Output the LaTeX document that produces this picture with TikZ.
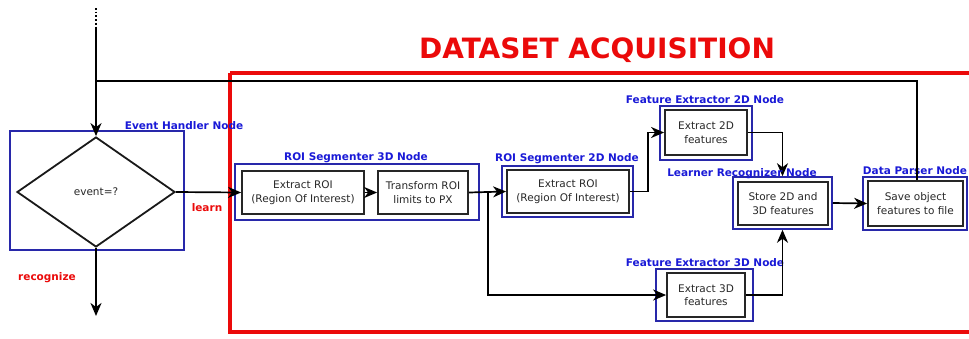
\documentclass[tikz,border=0pt]{standalone}
\usepackage{fontspec}
\setmainfont{DejaVu Sans}
\usetikzlibrary{shapes.geometric,arrows.meta,calc}
\definecolor{lblblue}{RGB}{25,25,215}
\definecolor{boxblue}{RGB}{40,40,170}
\definecolor{bigred}{RGB}{235,10,10}
\definecolor{txt}{RGB}{40,40,40}
\tikzset{
  inbox/.style={draw=black!85, line width=1.8pt, fill=white, inner sep=0pt, align=center,
    font=\fontsize{10.5}{13.5}\selectfont, text=txt},
  outbox/.style={draw=boxblue, line width=1.5pt, inner sep=0pt},
  nlabel/.style={font=\fontsize{10.5}{11}\selectfont\bfseries, text=lblblue, inner sep=0pt},
  conn/.style={line width=1.7pt, black},
  arr/.style={conn, -{Stealth[length=13pt,width=11pt,inset=4pt]}},
  redlbl/.style={font=\fontsize{10.5}{11}\selectfont\bfseries, text=bigred, inner sep=0pt},
}
\begin{document}
\begin{tikzpicture}[x=1pt,y=-1pt]
\useasboundingbox (0,0) rectangle (969,338);
\fill[white] (0,0) rectangle (969,338);

% big red box and title
\draw[bigred, line width=4.5pt] (230,73) -- (980,73) (230,73) -- (230,332) -- (980,332);
\node[font=\fontsize{28}{30}\selectfont\bfseries, text=bigred, inner sep=0pt] (title) at (597,50) {DATASET ACQUISITION};

% Event handler
\node[outbox, minimum width=174pt, minimum height=119pt] (eho) at (97,190.5) {};
\node[nlabel] (ehl) at (184,126) {Event Handler Node};
\node[draw=black!90, line width=1.8pt, diamond, minimum width=158pt, minimum height=110pt, inner sep=0pt,
  font=\fontsize{10.5}{12}\selectfont, text=txt] (dia) at (96,192) {event=?};

% ROI Segmenter 3D
\node[outbox, minimum width=244pt, minimum height=56pt] (r3o) at (357,192) {};
\node[nlabel] (r3l) at (356,158) {ROI Segmenter 3D Node};
\node[inbox, minimum width=122pt, minimum height=43pt] (r3a) at (303,192.5) {Extract ROI\\(Region Of Interest)};
\node[inbox, minimum width=90pt, minimum height=43pt] (r3b) at (423,192.5) {Transform ROI\\limits to PX};

% ROI Segmenter 2D
\node[outbox, minimum width=131pt, minimum height=51pt] (r2o) at (567.5,191.5) {};
\node[nlabel] (r2l) at (567,159) {ROI Segmenter 2D Node};
\node[inbox, minimum width=122pt, minimum height=43pt] (r2) at (568,191.5) {Extract ROI\\(Region Of Interest)};

% Feature Extractor 2D
\node[outbox, minimum width=92pt, minimum height=54pt] (f2o) at (706,133) {};
\node[nlabel] (f2l) at (705,100) {Feature Extractor 2D Node};
\node[inbox, minimum width=82pt, minimum height=45pt] (f2) at (706,132.5) {Extract 2D\\features};

% Feature Extractor 3D
\node[outbox, minimum width=97pt, minimum height=52pt] (f3o) at (704.5,295) {};
\node[nlabel] (f3l) at (705,263) {Feature Extractor 3D Node};
\node[inbox, minimum width=78pt, minimum height=44pt] (f3) at (706,295) {Extract 3D\\features};

% Learner Recognizer
\node[outbox, minimum width=99pt, minimum height=52pt] (lro) at (782.5,203) {};
\node[inbox, minimum width=90pt, minimum height=43pt] (lr) at (783,203.5) {Store 2D and\\3D features};

% Data Parser
\node[outbox, minimum width=104pt, minimum height=53pt] (dpo) at (915,203.5) {};
\node[nlabel] (dpl) at (915,171) {Data Parser Node};
\node[inbox, minimum width=95pt, minimum height=45pt] (dp) at (915.5,203.5) {Save object\\features to file};

% coordinates
\coordinate (top) at (96,8);
\coordinate (tm) at (96,28);
\coordinate (join) at (96,81);
\coordinate (bot) at (96,316);
\coordinate (br) at (488,192.5);
\coordinate (r2x) at (648,191.5);
\coordinate (fb) at (917,81);

% connectors
\draw[conn, dotted, line width=1.8pt] (top) -- (tm);
\draw[arr] (tm) -- (dia.north);
\draw[conn, line width=1.2pt] (dp.north -| fb) -- (fb) -- (join);
\draw[arr] (dia.east) -- (r3a.west);
\draw[arr] (dia.south) -- (bot);
\draw[arr] (r3a.east) -- (r3b.west);
\draw[arr] (r3b.east) -- (r2.west);
\draw[arr] (br) |- (f3.west);
\draw[arr] (r2.east) -- (r2x) |- (f2.west);
\draw[arr] (f2.east) -| (lro.north);
\draw[arr] (f3.east) -| (lro.south);
\draw[arr] (lro.east) -- (dp.west);

% label drawn over arrow
\node[nlabel] (lrl) at (742,174) {Learner Recognizer Node};

% edge labels
\node[redlbl] (learn) at (207,208) {learn};
\node[redlbl] (recog) at (47,278) {recognize};
\end{tikzpicture}
\end{document}
